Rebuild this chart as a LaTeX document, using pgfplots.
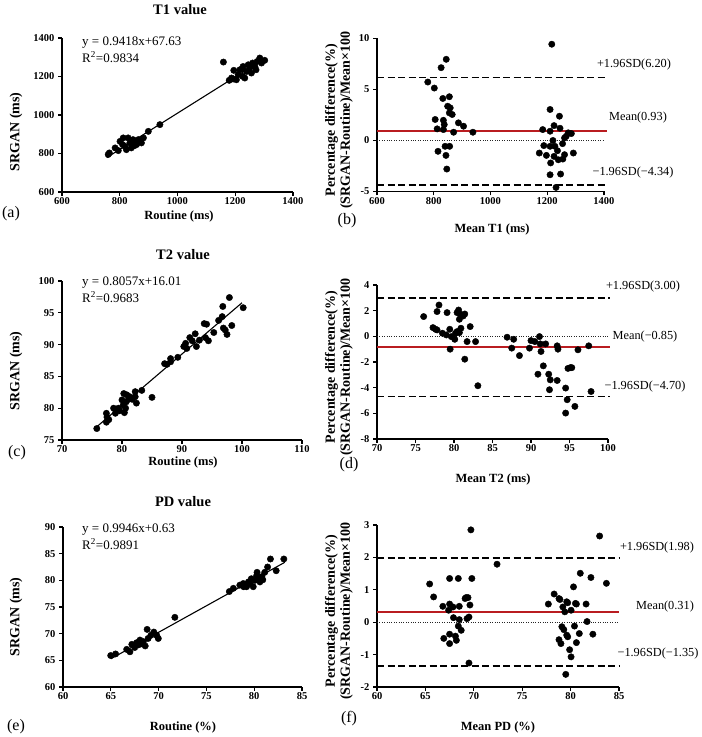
\documentclass[border=0pt]{standalone}
\usepackage{fontspec}
\setmainfont{Liberation Serif}
\usepackage{pgfplots}
\pgfplotsset{compat=1.18}
\definecolor{meanred}{RGB}{185,28,32}
\pgfplotsset{
  ba/.style={
    scale only axis,
    axis lines*=left,
    tick align=outside,
    axis line style={line width=1.1pt},
    major tick style={line width=1.1pt, black},
    major tick length=4pt,
    tick label style={font=\fontsize{10.5}{12}\selectfont\bfseries},
    xticklabel style={yshift=2pt},
    /pgf/number format/assume math mode=true,
    /pgf/number format/1000 sep={},
    clip=false,
    anchor=south west,
  },
  dots/.style={only marks, mark=*, mark size=3.2pt, black, mark options={fill=black, draw=black}},
  fitline/.style={black, line width=1.1pt, no marks},
  sdline/.style={black, line width=1.5pt, dash pattern=on 7pt off 3.5pt, no marks},
  meanline/.style={draw=meanred, color=meanred, line width=2pt, no marks, solid},
  zeroline/.style={black!85, line width=0.8pt, dash pattern=on 0.8pt off 1.6pt, no marks},
}
\newcommand\ttl{\fontsize{14.5}{16}\selectfont\bfseries}
\newcommand\xl{\fontsize{12.5}{14}\selectfont\bfseries}
\newcommand\yl{\fontsize{14}{15}\selectfont\bfseries}
\newcommand\eq{\fontsize{13}{15}\selectfont}
\newcommand\sd{\fontsize{12.3}{14}\selectfont}
\newcommand\pl{\fontsize{16}{18}\selectfont}
\begin{document}
\begin{tikzpicture}
\path[use as bounding box] (0pt,0pt) rectangle (702pt,737pt);

% (a)
\begin{axis}[ba, at={(62pt,545pt)}, width=231pt, height=154pt,
  xmin=600, xmax=1400, ymin=600, ymax=1400,
  xtick={600,800,1000,1200,1400}, ytick={600,800,1000,1200,1400}]
\addplot[fitline] coordinates {(755,778.7) (1300,1292.0)};
\addplot[dots] table {
x y
764 803
784 829
801 863
812 881
818 837
823 820
835 855
846 872
858 846
870 863
882 881
899 915
939 950
840 829
852 855
864 872
875 855
829 881
810 846
760 795
795 815
850 840
860 860
845 860
1159 1275
1179 1180
1187 1192
1195 1232
1210 1210
1216 1235
1225 1201
1227 1252
1239 1226
1245 1261
1256 1218
1260 1270
1268 1252
1276 1278
1285 1296
1302 1284
1233 1192
1250 1244
1204 1183
1193 1187
1272 1235
1291 1270
1225 1240
1262 1255
};
\end{axis}

% (b)
\begin{axis}[ba, at={(377pt,545.5pt)}, width=227pt, height=153pt,
  xmin=600, xmax=1400, ymin=-5, ymax=10,
  xtick={600,800,1000,1200,1400}, ytick={-5,0,5,10}]
\addplot[zeroline] coordinates {(600,0) (1400,0)};
\addplot[sdline] coordinates {(600,6.20) (1410,6.20)};
\addplot[sdline] coordinates {(600,-4.34) (1410,-4.34)};
\addplot[meanline] coordinates {(600,0.93) (1410,0.93)};
\addplot[dots] table {
x y
779 5.73
802 5.14
826 7.14
844 7.96
832 4.12
855 4.29
849 3.36
858 3.2
855 2.71
865 2.55
805 2.06
834 1.98
837 1.56
812 1.14
834 1.07
887 1.73
905 1.40
870 0.81
938 0.81
840 -0.57
856 -0.57
815 -1.06
843 -1.46
846 -2.8
1216 9.44
1210 3.04
1243 2.38
1224 1.46
1245 1.2
1184 1.07
1210 0.91
1274 0.75
1285 0.68
1267 0.42
1261 0.25
1220 0
1188 -0.5
1210 -0.57
1227 -0.57
1254 -0.31
1236 -1.0
1172 -1.23
1197 -1.46
1292 -1.23
1261 -1.39
1255 -1.82
1239 -1.89
1212 -2.2
1210 -3.36
1247 -3.29
1231 -4.6
1224 -1.56
};
\end{axis}

% (c)
\begin{axis}[ba, at={(62pt,297pt)}, width=240pt, height=159pt,
  xmin=70, xmax=110, ymin=75, ymax=100,
  xtick={70,80,90,100,110}, ytick={75,80,85,90,95,100}]
\addplot[fitline] coordinates {(75.4,76.76) (100,96.58)};
\addplot[dots] table {
x y
75.8 76.8
77.4 79.2
77.5 78.6
77.4 77.8
77.8 78.2
78.6 80.0
78.9 79.2
79.4 80.0
79.6 79.6
80.0 81.3
80.2 80.5
80.4 79.3
80.6 80.0
80.7 81.0
80.8 82.1
81.1 81.4
81.3 81.8
80.3 82.3
82.2 82.6
82.2 81.8
82.4 80.8
83.3 82.8
85.0 81.7
87.1 87.0
87.5 86.9
88.1 87.8
88.1 87.3
89.3 88.0
90.3 89.7
90.6 90.2
90.8 89.4
91.3 91.1
91.7 90.6
92.2 91.7
92.4 89.7
92.9 90.7
93.7 93.3
94.1 93.2
93.9 91.1
94.4 90.6
95.3 91.9
96.1 93.8
96.7 94.4
96.8 96.0
96.9 92.6
97.2 92.3
97.5 91.6
97.9 97.4
98.3 93.0
100.2 95.8
81.7 81.4
};
\end{axis}

% (d)
\begin{axis}[ba, at={(377pt,298pt)}, width=231pt, height=154pt,
  xmin=70, xmax=100, ymin=-8, ymax=4,
  xtick={70,75,80,85,90,95,100}, ytick={-8,-6,-4,-2,0,2,4}]
\addplot[zeroline] coordinates {(70,0) (100,0)};
\addplot[sdline] coordinates {(70,3.00) (100.2,3.00)};
\addplot[sdline] coordinates {(70,-4.70) (100.2,-4.70)};
\addplot[meanline] coordinates {(70,-0.85) (100.2,-0.85)};
\addplot[dots] table {
x y
76.06 1.54
77.27 0.68
77.6 0.55
77.8 0.5
78.05 2.44
77.8 1.93
79.1 1.85
78.5 0.24
79.0 0.11
79.45 0.55
79.65 -0.02
79.5 -1.0
80.1 -0.23
80.2 0.24
80.4 1.85
80.6 2.05
80.8 1.74
80.7 1.33
80.9 0.63
80.7 0.29
81.2 1.59
81.4 1.74
81.4 -1.78
81.7 -0.41
82.1 0.76
82.8 -0.41
83.1 -3.85
80.4 0.37
86.9 -0.07
87.75 -0.23
87.5 -0.92
88.5 -1.5
89.8 -0.92
90.0 -0.33
90.5 -0.41
91.1 -0.02
91.2 -0.59
91.3 -1.18
91.9 -0.59
90.9 -2.95
91.6 -2.3
92.3 -2.95
92.5 -3.39
92.4 -4.16
93.4 -0.74
93.5 -1.0
93.4 -3.44
94.5 -4.03
94.7 -4.94
94.8 -2.5
95.3 -2.44
94.5 -5.98
95.7 -5.46
96.1 -1.05
97.5 -0.74
97.8 -4.3
95.1 -2.44
};
\end{axis}

% (e)
\begin{axis}[ba, at={(63pt,50pt)}, width=239pt, height=160pt,
  xmin=60, xmax=85, ymin=60, ymax=90,
  xtick={60,65,70,75,80,85}, ytick={60,65,70,75,80,85,90}]
\addplot[fitline] coordinates {(65,65.28) (83.2,83.38)};
\addplot[dots] table {
x y
64.99 65.9
65.5 66.2
66.66 67.05
67.0 66.6
67.2 68.0
67.5 67.4
67.9 67.9
68.05 68.8
68.4 68.5
68.6 67.7
68.8 70.8
68.9 69.1
69.2 69.7
69.5 70.3
69.8 69.7
69.97 69.1
71.7 73.06
68.2 68.1
67.7 68.3
77.4 77.9
77.82 78.5
78.5 79.1
78.86 79.4
79.2 78.8
79.4 79.7
79.56 79.4
79.7 80.3
79.9 78.8
80.08 80.0
80.26 80.9
80.4 80.3
80.6 79.7
80.8 80.7
80.3 81.5
81.1 81.5
81.4 82.5
81.7 84.0
82.3 81.8
83.1 84.0
80.9 80.1
78.9 78.8
};
\end{axis}

% (f)
\begin{axis}[ba, at={(377pt,50pt)}, width=242pt, height=162pt,
  xmin=60, xmax=85, ymin=-2, ymax=3,
  xtick={60,65,70,75,80,85}, ytick={-2,-1,0,1,2,3}]
\addplot[zeroline] coordinates {(60,0) (85,0)};
\addplot[sdline] coordinates {(60,1.98) (85,1.98)};
\addplot[sdline] coordinates {(60,-1.35) (85,-1.35)};
\addplot[meanline] coordinates {(60,0.31) (85,0.31)};
\addplot[dots] table {
x y
65.44 1.18
65.85 0.78
66.8 0.49
66.9 -0.5
67.4 0.37
67.5 0.56
67.5 1.35
67.5 -0.37
67.5 -0.66
67.85 0.47
67.9 0.14
68.1 -0.43
68.2 -0.56
68.4 1.35
68.5 0.08
68.5 0.49
68.4 -0.12
68.7 -0.25
69.1 0.73
69.2 0.76
69.4 0.76
69.3 0.11
69.5 0.16
69.6 0.53
69.5 -1.26
69.7 2.85
69.8 1.35
72.4 1.79
77.7 0.56
78.3 0.87
78.8 0.73
78.9 0.70
79.2 0.47
79.4 0.32
79.6 0.63
79.7 0.60
79.1 -0.14
79.3 -0.23
79.6 -0.40
79.7 -0.45
78.8 -0.54
79.0 -0.66
80.05 0.37
80.3 1.09
80.5 0.58
80.6 0.56
80.4 -0.12
79.9 -0.85
80.05 -1.07
80.6 -0.63
80.9 -0.35
81.0 1.51
81.6 0.56
81.7 0.02
82.1 1.38
82.3 -0.37
79.5 -1.61
83.0 2.66
83.7 1.2
};
\end{axis}

% titles
\node[font=\ttl] at (180pt,727pt) {T1 value};
\node[font=\ttl] at (183pt,482pt) {T2 value};
\node[font=\ttl] at (183pt,235pt) {PD value};
% x labels
\node[font=\xl, inner sep=1pt] at (179pt,521pt) {Routine (ms)};
\node[font=\xl, inner sep=1pt] at (492pt,508pt) {Mean T1 (ms)};
\node[font=\xl, inner sep=1pt] at (183pt,275pt) {Routine (ms)};
\node[font=\xl, inner sep=1pt] at (493pt,258pt) {Mean T2 (ms)};
\node[font=\xl, inner sep=1pt] at (183pt,10pt) {Routine (\%)};
\node[font=\xl, inner sep=1pt] at (498pt,10pt) {Mean PD (\%)};
% y labels
\node[font=\yl, rotate=90] at (16pt,605pt) {SRGAN (ms)};
\node[font=\yl, rotate=90] at (16pt,366pt) {SRGAN (ms)};
\node[font=\yl, rotate=90] at (16pt,120pt) {SRGAN (ms)};
\node[font=\yl, rotate=90, align=center, inner sep=0pt] at (339pt,617pt) {Percentage difference(\%)\\(SRGAN-Routine)/Mean×100};
\node[font=\yl, rotate=90, align=center, inner sep=0pt] at (339pt,370pt) {Percentage difference(\%)\\(SRGAN-Routine)/Mean×100};
\node[font=\yl, rotate=90, align=center, inner sep=0pt] at (339pt,126pt) {Percentage difference(\%)\\(SRGAN-Routine)/Mean×100};
% panel letters
\node[font=\pl] at (11pt,523pt) {(a)};
\node[font=\pl] at (347pt,516pt) {(b)};
\node[font=\pl] at (17pt,284pt) {(c)};
\node[font=\pl] at (349pt,272pt) {(d)};
\node[font=\pl] at (16pt,10pt) {(e)};
\node[font=\pl] at (349pt,18pt) {(f)};
% equations
\node[font=\eq, anchor=west, inner sep=0pt] at (82pt,694pt) {y = 0.9418x+67.63};
\node[font=\eq, anchor=west, inner sep=0pt] at (82pt,680pt) {R\textsuperscript{2}=0.9834};
\node[font=\eq, anchor=west, inner sep=0pt] at (82pt,454pt) {y = 0.8057x+16.01};
\node[font=\eq, anchor=west, inner sep=0pt] at (82pt,440pt) {R\textsuperscript{2}=0.9683};
\node[font=\eq, anchor=west, inner sep=0pt] at (82pt,207pt) {y = 0.9946x+0.63};
\node[font=\eq, anchor=west, inner sep=0pt] at (82pt,193pt) {R\textsuperscript{2}=0.9891};
% SD labels
\node[font=\sd] at (634pt,672pt) {+1.96SD(6.20)};
\node[font=\sd] at (638pt,619pt) {Mean(0.93)};
\node[font=\sd] at (633pt,564pt) {−1.96SD(−4.34)};
\node[font=\sd] at (643pt,450pt) {+1.96SD(3.00)};
\node[font=\sd] at (645pt,400pt) {Mean(−0.85)};
\node[font=\sd] at (645pt,350pt) {−1.96SD(−4.70)};
\node[font=\sd] at (657pt,189pt) {+1.96SD(1.98)};
\node[font=\sd] at (665pt,130pt) {Mean(0.31)};
\node[font=\sd] at (658pt,83pt) {−1.96SD(−1.35)};
\end{tikzpicture}
\end{document}
